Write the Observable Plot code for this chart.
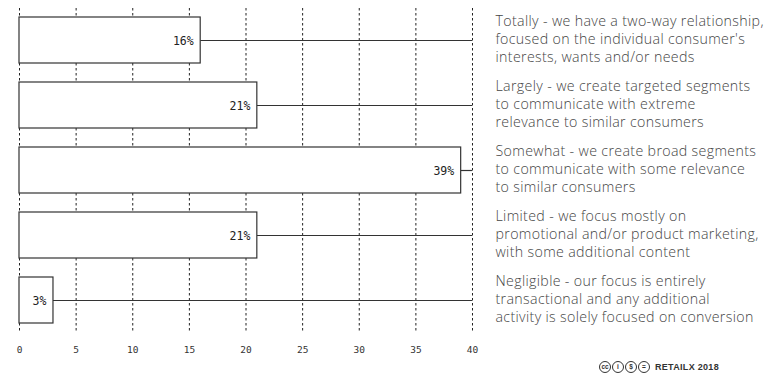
<!DOCTYPE html>
<html>
<head>
<meta charset="utf-8">
<script src="https://cdn.jsdelivr.net/npm/d3@7"></script>
<script src="https://cdn.jsdelivr.net/npm/@observablehq/plot@0.6"></script>
<style>
  html, body { margin: 0; padding: 0; background: #fff; }
  #wrap { position: relative; width: 768px; height: 378px; }
  #footer { position: absolute; left: 599px; top: 361px; display: flex; align-items: center; gap: 1px;
            font-family: "Liberation Sans", Arial, sans-serif; color: #333; }
  .cc { display: inline-flex; width: 10px; height: 10px; border: 1.2px solid #333; border-radius: 50%;
        align-items: center; justify-content: center; font-size: 6.5px; font-weight: bold; line-height: 1; }
  #footer .brand { font-size: 9px; font-weight: bold; margin-left: 4px; letter-spacing: 0.3px; }
</style>
</head>
<body>
<div id="wrap">
  <div id="chart"></div>
  <div id="footer">
    <span class="cc">cc</span><span class="cc">i</span><span class="cc">$</span><span class="cc">=</span>
    <span class="brand">RETAILX 2018</span>
  </div>
</div>
<script>
const categories = ["Totally", "Largely", "Somewhat", "Limited", "Negligible"];
const values = [16, 21, 39, 21, 3];
const descriptions = [
  "Totally - we have a two-way relationship,\nfocused on the individual consumer's\ninterests, wants and/or needs",
  "Largely - we create targeted segments\nto communicate with extreme\nrelevance to similar consumers",
  "Somewhat - we create broad segments\nto communicate with some relevance\nto similar consumers",
  "Limited - we focus mostly on\npromotional and/or product marketing,\nwith some additional content",
  "Negligible - our focus is entirely\ntransactional and any additional\nactivity is solely focused on conversion"
];
const xTicks = [0, 5, 10, 15, 20, 25, 30, 35, 40];
const xMax = 40;

const data = categories.map((c, i) => ({ cat: c, value: values[i], desc: descriptions[i], label: values[i] + "%" }));

const chart = Plot.plot({
  width: 768,
  height: 360,
  marginLeft: 19,
  marginRight: 296,
  marginTop: 8,
  marginBottom: 27,
  x: { domain: [0, xMax], ticks: xTicks, tickSize: 0, tickPadding: 13, label: null },
  y: { domain: categories, paddingInner: 0.29, paddingOuter: 0.14, axis: null },
  style: { fontFamily: "'DejaVu Sans Mono', monospace", fontSize: "9.5px", color: "#333", background: "#fff" },
  marks: [
    Plot.ruleX(xTicks, { stroke: "#222", strokeWidth: 1, strokeDasharray: "2.5,2.5" }),
    Plot.ruleY(data, { y: "cat", x1: "value", x2: xMax, stroke: "#333", strokeWidth: 1.2 }),
    Plot.barX(data, { y: "cat", x: "value", fill: "#fff", stroke: "#333", strokeWidth: 1.2 }),
    Plot.text(data, { y: "cat", x: "value", text: "label", textAnchor: "end", dx: -7, dy: 1,
      fontFamily: "'DejaVu Sans Mono', monospace", fontSize: 11.5, fill: "#222" }),
    Plot.text(data, { y: "cat", x: () => xMax, text: "desc", textAnchor: "start", dx: 23, dy: -2,
      lineAnchor: "middle", lineHeight: 1.27, fontFamily: "'Open Sans', Lato, sans-serif", fontWeight: 300,
      fontSize: 14.2, fill: "#444" })
  ]
});
d3.select(chart).selectAll("g[font-family*='Open Sans']").attr("letter-spacing", "0.35px");
document.getElementById("chart").appendChild(chart);
</script>
</body>
</html>
